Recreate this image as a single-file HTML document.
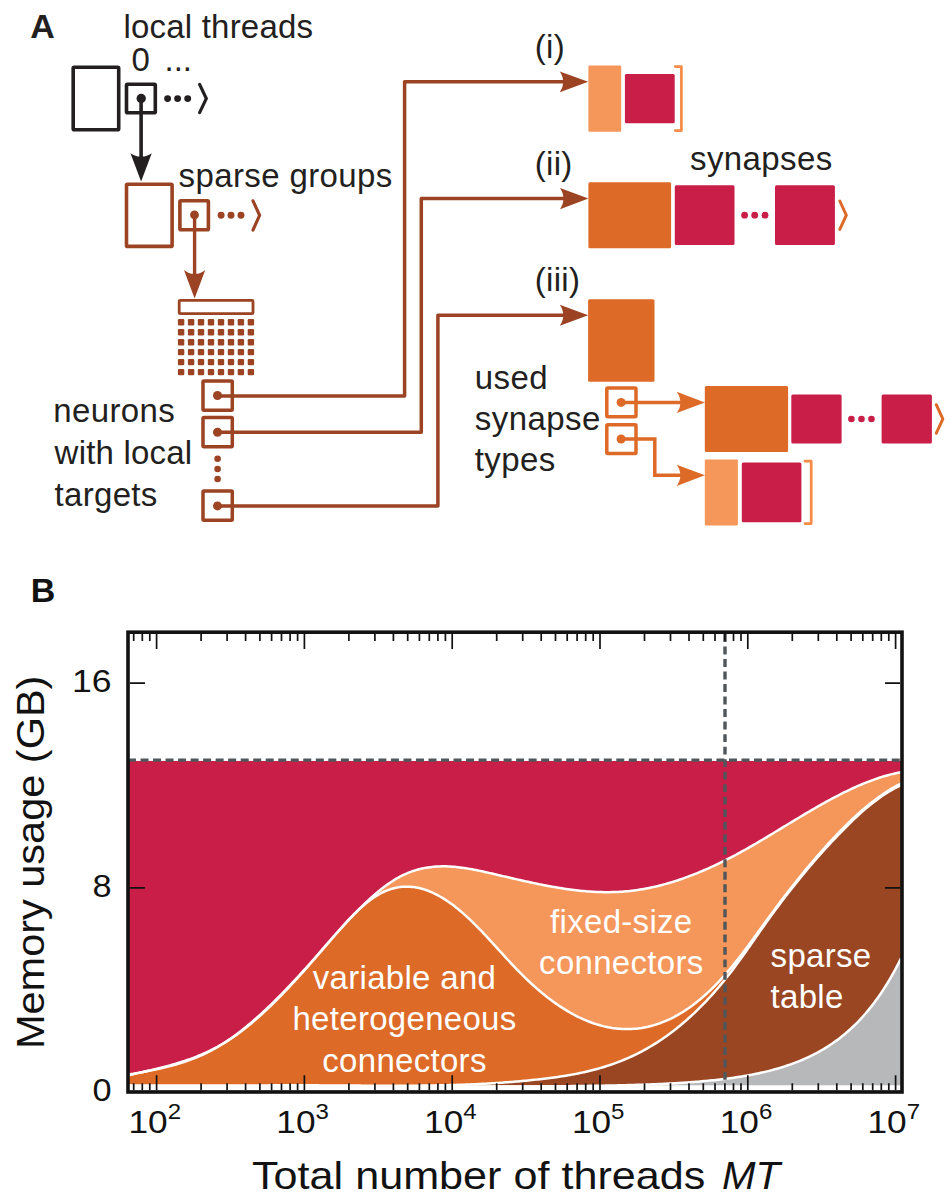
<!DOCTYPE html>
<html><head><meta charset="utf-8"><style>
html,body{margin:0;padding:0;background:#fff;width:952px;height:1204px;overflow:hidden}
svg{display:block}
text{font-family:"Liberation Sans",sans-serif}
</style></head><body>
<svg width="952" height="1204" viewBox="0 0 952 1204">
<rect width="952" height="1204" fill="#fff"/>
<text x="30.2" y="38.4" font-size="34" fill="#231f20" font-family="'Liberation Sans', sans-serif" font-weight="bold">A</text>
<text x="123.5" y="37.5" font-size="33" fill="#231f20" font-family="'Liberation Sans', sans-serif" letter-spacing="0.2">local threads</text>
<text x="131.5" y="71.3" font-size="33" fill="#231f20" font-family="'Liberation Sans', sans-serif" >0</text>
<text x="164.5" y="71.3" font-size="33" fill="#231f20" font-family="'Liberation Sans', sans-serif" >...</text>
<rect x="73.2" y="67.3" width="45.5" height="62.4" fill="none" stroke="#231f20" stroke-width="3.6" rx="1"/>
<rect x="126.5" y="84.2" width="28.8" height="28.5" fill="none" stroke="#231f20" stroke-width="3.6" rx="1"/>
<circle cx="141.2" cy="98.5" r="4.7" fill="#231f20"/>
<circle cx="167.6" cy="98.6" r="3.45" fill="#231f20"/>
<circle cx="177.6" cy="98.6" r="3.45" fill="#231f20"/>
<circle cx="187.7" cy="98.6" r="3.45" fill="#231f20"/>
<path d="M199.6,84.4 L206.3,98.6 L199.6,112.6" fill="none" stroke="#231f20" stroke-width="3.2" stroke-linecap="round" stroke-linejoin="miter"/>
<line x1="141.1" y1="98.5" x2="141.1" y2="158" stroke="#231f20" stroke-width="3.6"/>
<path d="M141.10,181.50 L130.45,153.20 Q136.31,156.99 141.10,156.50 Q145.89,156.99 151.75,153.20 Z" fill="#231f20"/>
<text x="178.6" y="187.1" font-size="33" fill="#231f20" font-family="'Liberation Sans', sans-serif" letter-spacing="0.38">sparse groups</text>
<rect x="126.5" y="184.2" width="45.6" height="62.2" fill="none" stroke="#9b4322" stroke-width="3.6" rx="1"/>
<rect x="179.9" y="200.8" width="28.5" height="29" fill="none" stroke="#9b4322" stroke-width="3.6" rx="1"/>
<circle cx="194.5" cy="214.9" r="4.4" fill="#9b4322"/>
<circle cx="221.1" cy="215.3" r="3.45" fill="#9b4322"/>
<circle cx="231.0" cy="215.3" r="3.45" fill="#9b4322"/>
<circle cx="241.0" cy="215.3" r="3.45" fill="#9b4322"/>
<path d="M253,200.8 L259.6,215.3 L253,230" fill="none" stroke="#9b4322" stroke-width="3.15" stroke-linecap="round"/>
<line x1="194.6" y1="214.9" x2="194.6" y2="276" stroke="#9b4322" stroke-width="3.4"/>
<path d="M194.60,298.40 L183.95,269.90 Q189.81,274.27 194.60,273.70 Q199.39,274.27 205.25,269.90 Z" fill="#9b4322"/>
<rect x="179.2" y="300.4" width="73.8" height="13.3" fill="none" stroke="#9b4322" stroke-width="2.8" rx="1"/>
<rect x="177.9" y="319.0" width="6.4" height="6.4" rx="1.2" fill="#9b4322"/>
<rect x="187.9" y="319.0" width="6.4" height="6.4" rx="1.2" fill="#9b4322"/>
<rect x="197.8" y="319.0" width="6.4" height="6.4" rx="1.2" fill="#9b4322"/>
<rect x="207.8" y="319.0" width="6.4" height="6.4" rx="1.2" fill="#9b4322"/>
<rect x="217.8" y="319.0" width="6.4" height="6.4" rx="1.2" fill="#9b4322"/>
<rect x="227.8" y="319.0" width="6.4" height="6.4" rx="1.2" fill="#9b4322"/>
<rect x="237.7" y="319.0" width="6.4" height="6.4" rx="1.2" fill="#9b4322"/>
<rect x="247.7" y="319.0" width="6.4" height="6.4" rx="1.2" fill="#9b4322"/>
<rect x="177.9" y="329.0" width="6.4" height="6.4" rx="1.2" fill="#9b4322"/>
<rect x="187.9" y="329.0" width="6.4" height="6.4" rx="1.2" fill="#9b4322"/>
<rect x="197.8" y="329.0" width="6.4" height="6.4" rx="1.2" fill="#9b4322"/>
<rect x="207.8" y="329.0" width="6.4" height="6.4" rx="1.2" fill="#9b4322"/>
<rect x="217.8" y="329.0" width="6.4" height="6.4" rx="1.2" fill="#9b4322"/>
<rect x="227.8" y="329.0" width="6.4" height="6.4" rx="1.2" fill="#9b4322"/>
<rect x="237.7" y="329.0" width="6.4" height="6.4" rx="1.2" fill="#9b4322"/>
<rect x="247.7" y="329.0" width="6.4" height="6.4" rx="1.2" fill="#9b4322"/>
<rect x="177.9" y="339.0" width="6.4" height="6.4" rx="1.2" fill="#9b4322"/>
<rect x="187.9" y="339.0" width="6.4" height="6.4" rx="1.2" fill="#9b4322"/>
<rect x="197.8" y="339.0" width="6.4" height="6.4" rx="1.2" fill="#9b4322"/>
<rect x="207.8" y="339.0" width="6.4" height="6.4" rx="1.2" fill="#9b4322"/>
<rect x="217.8" y="339.0" width="6.4" height="6.4" rx="1.2" fill="#9b4322"/>
<rect x="227.8" y="339.0" width="6.4" height="6.4" rx="1.2" fill="#9b4322"/>
<rect x="237.7" y="339.0" width="6.4" height="6.4" rx="1.2" fill="#9b4322"/>
<rect x="247.7" y="339.0" width="6.4" height="6.4" rx="1.2" fill="#9b4322"/>
<rect x="177.9" y="348.9" width="6.4" height="6.4" rx="1.2" fill="#9b4322"/>
<rect x="187.9" y="348.9" width="6.4" height="6.4" rx="1.2" fill="#9b4322"/>
<rect x="197.8" y="348.9" width="6.4" height="6.4" rx="1.2" fill="#9b4322"/>
<rect x="207.8" y="348.9" width="6.4" height="6.4" rx="1.2" fill="#9b4322"/>
<rect x="217.8" y="348.9" width="6.4" height="6.4" rx="1.2" fill="#9b4322"/>
<rect x="227.8" y="348.9" width="6.4" height="6.4" rx="1.2" fill="#9b4322"/>
<rect x="237.7" y="348.9" width="6.4" height="6.4" rx="1.2" fill="#9b4322"/>
<rect x="247.7" y="348.9" width="6.4" height="6.4" rx="1.2" fill="#9b4322"/>
<rect x="177.9" y="358.9" width="6.4" height="6.4" rx="1.2" fill="#9b4322"/>
<rect x="187.9" y="358.9" width="6.4" height="6.4" rx="1.2" fill="#9b4322"/>
<rect x="197.8" y="358.9" width="6.4" height="6.4" rx="1.2" fill="#9b4322"/>
<rect x="207.8" y="358.9" width="6.4" height="6.4" rx="1.2" fill="#9b4322"/>
<rect x="217.8" y="358.9" width="6.4" height="6.4" rx="1.2" fill="#9b4322"/>
<rect x="227.8" y="358.9" width="6.4" height="6.4" rx="1.2" fill="#9b4322"/>
<rect x="237.7" y="358.9" width="6.4" height="6.4" rx="1.2" fill="#9b4322"/>
<rect x="247.7" y="358.9" width="6.4" height="6.4" rx="1.2" fill="#9b4322"/>
<rect x="177.9" y="368.9" width="6.4" height="6.4" rx="1.2" fill="#9b4322"/>
<rect x="187.9" y="368.9" width="6.4" height="6.4" rx="1.2" fill="#9b4322"/>
<rect x="197.8" y="368.9" width="6.4" height="6.4" rx="1.2" fill="#9b4322"/>
<rect x="207.8" y="368.9" width="6.4" height="6.4" rx="1.2" fill="#9b4322"/>
<rect x="217.8" y="368.9" width="6.4" height="6.4" rx="1.2" fill="#9b4322"/>
<rect x="227.8" y="368.9" width="6.4" height="6.4" rx="1.2" fill="#9b4322"/>
<rect x="237.7" y="368.9" width="6.4" height="6.4" rx="1.2" fill="#9b4322"/>
<rect x="247.7" y="368.9" width="6.4" height="6.4" rx="1.2" fill="#9b4322"/>
<rect x="203" y="381.0" width="29.3" height="29.2" fill="none" stroke="#9b4322" stroke-width="3.5" rx="1"/>
<circle cx="217.5" cy="395.5" r="4.5" fill="#9b4322"/>
<rect x="203" y="417.6" width="29.3" height="29.2" fill="none" stroke="#9b4322" stroke-width="3.5" rx="1"/>
<circle cx="217.5" cy="432.2" r="4.5" fill="#9b4322"/>
<rect x="203" y="491.1" width="29.3" height="29.2" fill="none" stroke="#9b4322" stroke-width="3.5" rx="1"/>
<circle cx="217.5" cy="505.9" r="4.5" fill="#9b4322"/>
<circle cx="217.6" cy="458.8" r="3.3" fill="#9b4322"/>
<circle cx="217.6" cy="469.0" r="3.3" fill="#9b4322"/>
<circle cx="217.6" cy="479.0" r="3.3" fill="#9b4322"/>
<path d="M217.5,395.9 H404.6 V81.8 H565" fill="none" stroke="#9b4322" stroke-width="3.5" stroke-linejoin="round"/>
<path d="M217.5,432.2 H421.3 V198.6 H565" fill="none" stroke="#9b4322" stroke-width="3.5" stroke-linejoin="round"/>
<path d="M217.5,505.9 H437.9 V315.2 H565" fill="none" stroke="#9b4322" stroke-width="3.5" stroke-linejoin="round"/>
<path d="M588.20,81.80 L559.80,71.40 Q563.48,77.12 563.00,81.80 Q563.48,86.48 559.80,92.20 Z" fill="#9b4322"/>
<path d="M588.40,198.60 L560.00,188.00 Q563.79,193.83 563.30,198.60 Q563.79,203.37 560.00,209.20 Z" fill="#9b4322"/>
<path d="M588.20,315.20 L559.80,304.70 Q563.60,310.47 563.10,315.20 Q563.60,319.93 559.80,325.70 Z" fill="#9b4322"/>
<text x="53.2" y="421.9" font-size="33" fill="#231f20" font-family="'Liberation Sans', sans-serif" letter-spacing="0.4">neurons</text>
<text x="54.6" y="463.9" font-size="33" fill="#231f20" font-family="'Liberation Sans', sans-serif" letter-spacing="0.2">with local</text>
<text x="54.6" y="505.6" font-size="33" fill="#231f20" font-family="'Liberation Sans', sans-serif" letter-spacing="0.3">targets</text>
<text x="534.8" y="57.8" font-size="33" fill="#231f20" font-family="'Liberation Sans', sans-serif" letter-spacing="0.3">(i)</text>
<rect x="588.4" y="65.5" width="32.8" height="66.2" rx="1" fill="#f5965a"/>
<rect x="624.9" y="73.9" width="49.8" height="49.3" rx="1.5" fill="#c91e48"/>
<path d="M675.3,66.6 H681.4 V130.6 H675.3" fill="none" stroke="#f58b45" stroke-width="2.7" stroke-linecap="round" stroke-linejoin="round"/>
<text x="534.8" y="174.6" font-size="33" fill="#231f20" font-family="'Liberation Sans', sans-serif" letter-spacing="0.3">(ii)</text>
<text x="690.0" y="170.3" font-size="33" fill="#231f20" font-family="'Liberation Sans', sans-serif" letter-spacing="0.4">synapses</text>
<rect x="588.4" y="182.3" width="82.7" height="65.9" rx="1.5" fill="#dd6a27"/>
<rect x="674.8" y="185.3" width="59.7" height="59.7" rx="1.5" fill="#c91e48"/>
<rect x="775" y="185.3" width="59.9" height="59.7" rx="1.5" fill="#c91e48"/>
<circle cx="744.6" cy="215.2" r="3.4" fill="#c91e48"/>
<circle cx="754.7" cy="215.2" r="3.4" fill="#c91e48"/>
<circle cx="765.0" cy="215.2" r="3.4" fill="#c91e48"/>
<path d="M839.8,201 L846.3,215.2 L839.8,229.4" fill="none" stroke="#dd6a27" stroke-width="3" stroke-linecap="round"/>
<text x="534.8" y="290.7" font-size="33" fill="#231f20" font-family="'Liberation Sans', sans-serif" letter-spacing="0.3">(iii)</text>
<rect x="588.1" y="299.2" width="66.4" height="82.5" rx="1.5" fill="#dd6a27"/>
<text x="474.8" y="389.0" font-size="33" fill="#231f20" font-family="'Liberation Sans', sans-serif" letter-spacing="0.4">used</text>
<text x="474.8" y="429.8" font-size="33" fill="#231f20" font-family="'Liberation Sans', sans-serif" letter-spacing="0.45">synapse</text>
<text x="474.8" y="470.7" font-size="33" fill="#231f20" font-family="'Liberation Sans', sans-serif" letter-spacing="0.4">types</text>
<rect x="606.8" y="387.9" width="29.2" height="28.8" fill="none" stroke="#dd6a27" stroke-width="3.5" rx="1"/>
<rect x="606.8" y="424.8" width="29.2" height="28.8" fill="none" stroke="#dd6a27" stroke-width="3.5" rx="1"/>
<circle cx="621.1" cy="402.4" r="4.5" fill="#dd6a27"/>
<circle cx="621.1" cy="439" r="4.5" fill="#dd6a27"/>
<path d="M621.1,402.4 H682" fill="none" stroke="#dd6a27" stroke-width="3.5"/>
<path d="M621.1,439 H654.8 V475.3 H682" fill="none" stroke="#dd6a27" stroke-width="3.5"/>
<path d="M704.90,402.40 L676.70,391.70 Q680.72,397.58 680.20,402.40 Q680.72,407.21 676.70,413.10 Z" fill="#dd6a27"/>
<path d="M704.90,475.30 L676.70,464.70 Q680.72,470.53 680.20,475.30 Q680.72,480.07 676.70,485.90 Z" fill="#dd6a27"/>
<rect x="704.8" y="385.9" width="83.3" height="66.2" rx="1.5" fill="#dd6a27"/>
<rect x="791.3" y="394.4" width="50.3" height="49.2" rx="1.5" fill="#c91e48"/>
<rect x="881.6" y="394.4" width="50.3" height="49.2" rx="1.5" fill="#c91e48"/>
<circle cx="851.4" cy="419" r="3.3" fill="#c91e48"/>
<circle cx="861.5" cy="419" r="3.3" fill="#c91e48"/>
<circle cx="871.5" cy="419" r="3.3" fill="#c91e48"/>
<path d="M936.3,404.7 L942.8,419 L936.3,433.2" fill="none" stroke="#dd6a27" stroke-width="3" stroke-linecap="round"/>
<rect x="704.8" y="459.5" width="33.1" height="66.1" rx="1" fill="#f5965a"/>
<rect x="741.8" y="462.6" width="59.6" height="59.6" rx="1.5" fill="#c91e48"/>
<path d="M805,461.2 H811.2 V523.6 H805" fill="none" stroke="#f58b45" stroke-width="2.7" stroke-linecap="round" stroke-linejoin="round"/>
<rect x="129" y="761" width="772" height="332" fill="#c91e48"/>
<path d="M128.00,1074.69 L130.00,1074.33 L132.00,1073.97 L134.00,1073.61 L136.00,1073.25 L138.00,1072.88 L140.00,1072.52 L142.00,1072.15 L144.00,1071.77 L146.00,1071.40 L148.00,1071.01 L150.00,1070.62 L152.00,1070.22 L154.00,1069.81 L156.00,1069.39 L158.00,1068.96 L160.00,1068.52 L162.00,1068.06 L164.00,1067.60 L166.00,1067.12 L168.00,1066.62 L170.00,1066.11 L172.00,1065.58 L174.00,1065.03 L176.00,1064.47 L178.00,1063.88 L180.00,1063.28 L182.00,1062.65 L184.00,1062.00 L186.00,1061.33 L188.00,1060.64 L190.00,1059.92 L192.00,1059.17 L194.00,1058.40 L196.00,1057.60 L198.00,1056.77 L200.00,1055.91 L202.00,1055.02 L204.00,1054.11 L206.00,1053.16 L208.00,1052.17 L210.00,1051.16 L212.00,1050.11 L214.00,1049.02 L216.00,1047.90 L218.00,1046.74 L220.00,1045.54 L222.00,1044.31 L224.00,1043.05 L226.00,1041.75 L228.00,1040.41 L230.00,1039.05 L232.00,1037.65 L234.00,1036.22 L236.00,1034.75 L238.00,1033.26 L240.00,1031.73 L242.00,1030.18 L244.00,1028.60 L246.00,1026.98 L248.00,1025.34 L250.00,1023.67 L252.00,1021.98 L254.00,1020.26 L256.00,1018.51 L258.00,1016.73 L260.00,1014.94 L262.00,1013.11 L264.00,1011.27 L266.00,1009.40 L268.00,1007.50 L270.00,1005.59 L272.00,1003.65 L274.00,1001.70 L276.00,999.72 L278.00,997.72 L280.00,995.70 L282.00,993.67 L284.00,991.61 L286.00,989.54 L288.00,987.45 L290.00,985.35 L292.00,983.23 L294.00,981.09 L296.00,978.94 L298.00,976.77 L300.00,974.59 L302.00,972.40 L304.00,970.19 L306.00,967.98 L308.00,965.75 L310.00,963.51 L312.00,961.26 L314.00,959.00 L316.00,956.73 L318.00,954.46 L320.00,952.18 L322.00,949.91 L324.00,947.63 L326.00,945.35 L328.00,943.07 L330.00,940.80 L332.00,938.54 L334.00,936.28 L336.00,934.03 L338.00,931.79 L340.00,929.57 L342.00,927.36 L344.00,925.16 L346.00,922.98 L348.00,920.82 L350.00,918.69 L352.00,916.57 L354.00,914.48 L356.00,912.41 L358.00,910.37 L360.00,908.36 L362.00,906.38 L364.00,904.43 L366.00,902.51 L368.00,900.63 L370.00,898.79 L372.00,896.99 L374.00,895.22 L376.00,893.50 L378.00,891.82 L380.00,890.19 L382.00,888.60 L384.00,887.06 L386.00,885.57 L388.00,884.14 L390.00,882.75 L392.00,881.42 L394.00,880.15 L396.00,878.94 L398.00,877.78 L400.00,876.69 L402.00,875.66 L404.00,874.69 L406.00,873.78 L408.00,872.94 L410.00,872.15 L412.00,871.41 L414.00,870.74 L416.00,870.11 L418.00,869.54 L420.00,869.02 L422.00,868.55 L424.00,868.13 L426.00,867.76 L428.00,867.44 L430.00,867.16 L432.00,866.92 L434.00,866.72 L436.00,866.57 L438.00,866.45 L440.00,866.38 L442.00,866.34 L444.00,866.34 L446.00,866.37 L448.00,866.43 L450.00,866.53 L452.00,866.66 L454.00,866.81 L456.00,867.00 L458.00,867.21 L460.00,867.44 L462.00,867.70 L464.00,867.98 L466.00,868.29 L468.00,868.61 L470.00,868.95 L472.00,869.31 L474.00,869.69 L476.00,870.08 L478.00,870.48 L480.00,870.90 L482.00,871.33 L484.00,871.76 L486.00,872.21 L488.00,872.66 L490.00,873.11 L492.00,873.58 L494.00,874.04 L496.00,874.50 L498.00,874.97 L500.00,875.44 L502.00,875.91 L504.00,876.37 L506.00,876.84 L508.00,877.30 L510.00,877.77 L512.00,878.23 L514.00,878.69 L516.00,879.15 L518.00,879.61 L520.00,880.06 L522.00,880.51 L524.00,880.96 L526.00,881.40 L528.00,881.84 L530.00,882.27 L532.00,882.70 L534.00,883.12 L536.00,883.54 L538.00,883.96 L540.00,884.36 L542.00,884.76 L544.00,885.16 L546.00,885.54 L548.00,885.92 L550.00,886.29 L552.00,886.65 L554.00,887.01 L556.00,887.35 L558.00,887.69 L560.00,888.02 L562.00,888.33 L564.00,888.64 L566.00,888.94 L568.00,889.22 L570.00,889.50 L572.00,889.76 L574.00,890.01 L576.00,890.25 L578.00,890.48 L580.00,890.70 L582.00,890.90 L584.00,891.09 L586.00,891.26 L588.00,891.42 L590.00,891.57 L592.00,891.70 L594.00,891.81 L596.00,891.91 L598.00,892.00 L600.00,892.07 L602.00,892.12 L604.00,892.16 L606.00,892.17 L608.00,892.18 L610.00,892.16 L612.00,892.12 L614.00,892.07 L616.00,892.00 L618.00,891.91 L620.00,891.80 L622.00,891.67 L624.00,891.52 L626.00,891.35 L628.00,891.16 L630.00,890.95 L632.00,890.72 L634.00,890.47 L636.00,890.20 L638.00,889.91 L640.00,889.60 L642.00,889.27 L644.00,888.92 L646.00,888.55 L648.00,888.17 L650.00,887.76 L652.00,887.34 L654.00,886.89 L656.00,886.43 L658.00,885.95 L660.00,885.46 L662.00,884.94 L664.00,884.41 L666.00,883.86 L668.00,883.29 L670.00,882.71 L672.00,882.10 L674.00,881.48 L676.00,880.85 L678.00,880.20 L680.00,879.53 L682.00,878.84 L684.00,878.14 L686.00,877.42 L688.00,876.69 L690.00,875.94 L692.00,875.18 L694.00,874.40 L696.00,873.60 L698.00,872.79 L700.00,871.96 L702.00,871.12 L704.00,870.27 L706.00,869.40 L708.00,868.52 L710.00,867.62 L712.00,866.71 L714.00,865.78 L716.00,864.84 L718.00,863.89 L720.00,862.92 L722.00,861.94 L724.00,860.95 L726.00,859.95 L728.00,858.93 L730.00,857.90 L732.00,856.85 L734.00,855.80 L736.00,854.73 L738.00,853.65 L740.00,852.56 L742.00,851.46 L744.00,850.34 L746.00,849.22 L748.00,848.09 L750.00,846.95 L752.00,845.80 L754.00,844.65 L756.00,843.48 L758.00,842.31 L760.00,841.14 L762.00,839.95 L764.00,838.76 L766.00,837.57 L768.00,836.37 L770.00,835.17 L772.00,833.97 L774.00,832.76 L776.00,831.55 L778.00,830.34 L780.00,829.12 L782.00,827.91 L784.00,826.69 L786.00,825.48 L788.00,824.26 L790.00,823.05 L792.00,821.84 L794.00,820.63 L796.00,819.42 L798.00,818.22 L800.00,817.02 L802.00,815.82 L804.00,814.63 L806.00,813.44 L808.00,812.26 L810.00,811.08 L812.00,809.91 L814.00,808.75 L816.00,807.60 L818.00,806.45 L820.00,805.31 L822.00,804.18 L824.00,803.06 L826.00,801.95 L828.00,800.85 L830.00,799.77 L832.00,798.69 L834.00,797.62 L836.00,796.57 L838.00,795.53 L840.00,794.50 L842.00,793.49 L844.00,792.49 L846.00,791.51 L848.00,790.54 L850.00,789.59 L852.00,788.66 L854.00,787.74 L856.00,786.84 L858.00,785.95 L860.00,785.09 L862.00,784.24 L864.00,783.41 L866.00,782.61 L868.00,781.82 L870.00,781.06 L872.00,780.31 L874.00,779.59 L876.00,778.89 L878.00,778.21 L880.00,777.56 L882.00,776.93 L884.00,776.32 L886.00,775.74 L888.00,775.18 L890.00,774.65 L892.00,774.15 L894.00,773.67 L896.00,773.22 L898.00,772.80 L900.00,772.41 L901.00,772.22 L901.0,1093.0 L128.0,1093.0 Z" fill="#f5965a"/>
<path d="M128.00,1075.41 L130.00,1074.95 L132.00,1074.48 L134.00,1074.02 L136.00,1073.56 L138.00,1073.11 L140.00,1072.65 L142.00,1072.20 L144.00,1071.74 L146.00,1071.28 L148.00,1070.82 L150.00,1070.36 L152.00,1069.89 L154.00,1069.41 L156.00,1068.94 L158.00,1068.45 L160.00,1067.96 L162.00,1067.45 L164.00,1066.94 L166.00,1066.42 L168.00,1065.89 L170.00,1065.34 L172.00,1064.79 L174.00,1064.22 L176.00,1063.63 L178.00,1063.03 L180.00,1062.41 L182.00,1061.78 L184.00,1061.13 L186.00,1060.46 L188.00,1059.77 L190.00,1059.06 L192.00,1058.33 L194.00,1057.57 L196.00,1056.80 L198.00,1056.00 L200.00,1055.17 L202.00,1054.32 L204.00,1053.45 L206.00,1052.54 L208.00,1051.61 L210.00,1050.65 L212.00,1049.66 L214.00,1048.64 L216.00,1047.59 L218.00,1046.50 L220.00,1045.38 L222.00,1044.23 L224.00,1043.05 L226.00,1041.83 L228.00,1040.57 L230.00,1039.27 L232.00,1037.94 L234.00,1036.57 L236.00,1035.17 L238.00,1033.73 L240.00,1032.26 L242.00,1030.75 L244.00,1029.21 L246.00,1027.64 L248.00,1026.04 L250.00,1024.41 L252.00,1022.74 L254.00,1021.05 L256.00,1019.33 L258.00,1017.57 L260.00,1015.80 L262.00,1013.99 L264.00,1012.15 L266.00,1010.30 L268.00,1008.41 L270.00,1006.50 L272.00,1004.57 L274.00,1002.61 L276.00,1000.63 L278.00,998.62 L280.00,996.60 L282.00,994.55 L284.00,992.48 L286.00,990.40 L288.00,988.29 L290.00,986.16 L292.00,984.02 L294.00,981.86 L296.00,979.68 L298.00,977.49 L300.00,975.28 L302.00,973.05 L304.00,970.81 L306.00,968.56 L308.00,966.30 L310.00,964.02 L312.00,961.73 L314.00,959.42 L316.00,957.11 L318.00,954.79 L320.00,952.46 L322.00,950.11 L324.00,947.77 L326.00,945.42 L328.00,943.07 L330.00,940.73 L332.00,938.40 L334.00,936.07 L336.00,933.77 L338.00,931.48 L340.00,929.21 L342.00,926.97 L344.00,924.76 L346.00,922.58 L348.00,920.43 L350.00,918.32 L352.00,916.26 L354.00,914.24 L356.00,912.27 L358.00,910.36 L360.00,908.50 L362.00,906.70 L364.00,904.96 L366.00,903.29 L368.00,901.69 L370.00,900.16 L372.00,898.71 L374.00,897.34 L376.00,896.06 L378.00,894.85 L380.00,893.74 L382.00,892.70 L384.00,891.75 L386.00,890.88 L388.00,890.10 L390.00,889.39 L392.00,888.77 L394.00,888.23 L396.00,887.77 L398.00,887.38 L400.00,887.08 L402.00,886.85 L404.00,886.71 L406.00,886.63 L408.00,886.64 L410.00,886.72 L412.00,886.88 L414.00,887.11 L416.00,887.42 L418.00,887.80 L420.00,888.26 L422.00,888.78 L424.00,889.37 L426.00,890.03 L428.00,890.76 L430.00,891.56 L432.00,892.42 L434.00,893.34 L436.00,894.33 L438.00,895.38 L440.00,896.49 L442.00,897.66 L444.00,898.89 L446.00,900.17 L448.00,901.51 L450.00,902.91 L452.00,904.36 L454.00,905.86 L456.00,907.42 L458.00,909.02 L460.00,910.68 L462.00,912.38 L464.00,914.13 L466.00,915.93 L468.00,917.77 L470.00,919.66 L472.00,921.58 L474.00,923.55 L476.00,925.55 L478.00,927.58 L480.00,929.65 L482.00,931.73 L484.00,933.85 L486.00,935.98 L488.00,938.13 L490.00,940.30 L492.00,942.48 L494.00,944.67 L496.00,946.86 L498.00,949.06 L500.00,951.26 L502.00,953.46 L504.00,955.65 L506.00,957.83 L508.00,960.00 L510.00,962.16 L512.00,964.30 L514.00,966.43 L516.00,968.53 L518.00,970.60 L520.00,972.64 L522.00,974.66 L524.00,976.64 L526.00,978.59 L528.00,980.50 L530.00,982.38 L532.00,984.22 L534.00,986.03 L536.00,987.81 L538.00,989.55 L540.00,991.25 L542.00,992.92 L544.00,994.56 L546.00,996.16 L548.00,997.72 L550.00,999.25 L552.00,1000.74 L554.00,1002.20 L556.00,1003.62 L558.00,1005.00 L560.00,1006.35 L562.00,1007.66 L564.00,1008.93 L566.00,1010.16 L568.00,1011.36 L570.00,1012.52 L572.00,1013.64 L574.00,1014.73 L576.00,1015.78 L578.00,1016.78 L580.00,1017.75 L582.00,1018.69 L584.00,1019.58 L586.00,1020.43 L588.00,1021.25 L590.00,1022.02 L592.00,1022.76 L594.00,1023.46 L596.00,1024.12 L598.00,1024.73 L600.00,1025.31 L602.00,1025.85 L604.00,1026.35 L606.00,1026.80 L608.00,1027.22 L610.00,1027.59 L612.00,1027.93 L614.00,1028.22 L616.00,1028.47 L618.00,1028.68 L620.00,1028.85 L622.00,1028.98 L624.00,1029.06 L626.00,1029.10 L628.00,1029.10 L630.00,1029.06 L632.00,1028.97 L634.00,1028.84 L636.00,1028.67 L638.00,1028.46 L640.00,1028.20 L642.00,1027.90 L644.00,1027.55 L646.00,1027.16 L648.00,1026.73 L650.00,1026.25 L652.00,1025.73 L654.00,1025.17 L656.00,1024.56 L658.00,1023.90 L660.00,1023.20 L662.00,1022.45 L664.00,1021.66 L666.00,1020.82 L668.00,1019.94 L670.00,1019.01 L672.00,1018.04 L674.00,1017.02 L676.00,1015.95 L678.00,1014.84 L680.00,1013.68 L682.00,1012.47 L684.00,1011.21 L686.00,1009.91 L688.00,1008.56 L690.00,1007.17 L692.00,1005.72 L694.00,1004.23 L696.00,1002.69 L698.00,1001.10 L700.00,999.47 L702.00,997.78 L704.00,996.05 L706.00,994.26 L708.00,992.43 L710.00,990.55 L712.00,988.62 L714.00,986.64 L716.00,984.61 L718.00,982.53 L720.00,980.40 L722.00,978.22 L724.00,975.99 L726.00,973.71 L728.00,971.38 L730.00,969.00 L732.00,966.58 L734.00,964.12 L736.00,961.62 L738.00,959.08 L740.00,956.52 L742.00,953.92 L744.00,951.29 L746.00,948.64 L748.00,945.97 L750.00,943.27 L752.00,940.56 L754.00,937.84 L756.00,935.10 L758.00,932.36 L760.00,929.61 L762.00,926.85 L764.00,924.10 L766.00,921.34 L768.00,918.59 L770.00,915.85 L772.00,913.12 L774.00,910.40 L776.00,907.69 L778.00,905.01 L780.00,902.34 L782.00,899.69 L784.00,897.06 L786.00,894.45 L788.00,891.86 L790.00,889.29 L792.00,886.74 L794.00,884.21 L796.00,881.70 L798.00,879.20 L800.00,876.73 L802.00,874.27 L804.00,871.84 L806.00,869.42 L808.00,867.03 L810.00,864.65 L812.00,862.29 L814.00,859.95 L816.00,857.63 L818.00,855.33 L820.00,853.05 L822.00,850.78 L824.00,848.54 L826.00,846.32 L828.00,844.11 L830.00,841.93 L832.00,839.77 L834.00,837.63 L836.00,835.52 L838.00,833.43 L840.00,831.36 L842.00,829.32 L844.00,827.31 L846.00,825.32 L848.00,823.36 L850.00,821.42 L852.00,819.52 L854.00,817.64 L856.00,815.80 L858.00,813.98 L860.00,812.20 L862.00,810.44 L864.00,808.72 L866.00,807.04 L868.00,805.39 L870.00,803.77 L872.00,802.18 L874.00,800.64 L876.00,799.13 L878.00,797.65 L880.00,796.22 L882.00,794.82 L884.00,793.46 L886.00,792.14 L888.00,790.86 L890.00,789.63 L892.00,788.43 L894.00,787.28 L896.00,786.17 L898.00,785.10 L900.00,784.08 L901.00,783.59 L901.0,1093.0 L128.0,1093.0 Z" fill="#dd6a27"/>
<path d="M128.00,1085.34 L130.00,1085.36 L132.00,1085.39 L134.00,1085.40 L136.00,1085.42 L138.00,1085.44 L140.00,1085.46 L142.00,1085.47 L144.00,1085.49 L146.00,1085.50 L148.00,1085.52 L150.00,1085.53 L152.00,1085.54 L154.00,1085.55 L156.00,1085.56 L158.00,1085.57 L160.00,1085.58 L162.00,1085.58 L164.00,1085.59 L166.00,1085.60 L168.00,1085.60 L170.00,1085.61 L172.00,1085.61 L174.00,1085.61 L176.00,1085.61 L178.00,1085.62 L180.00,1085.62 L182.00,1085.62 L184.00,1085.62 L186.00,1085.62 L188.00,1085.62 L190.00,1085.62 L192.00,1085.61 L194.00,1085.61 L196.00,1085.61 L198.00,1085.61 L200.00,1085.60 L202.00,1085.60 L204.00,1085.59 L206.00,1085.59 L208.00,1085.58 L210.00,1085.58 L212.00,1085.57 L214.00,1085.57 L216.00,1085.56 L218.00,1085.55 L220.00,1085.55 L222.00,1085.54 L224.00,1085.53 L226.00,1085.53 L228.00,1085.52 L230.00,1085.51 L232.00,1085.51 L234.00,1085.50 L236.00,1085.49 L238.00,1085.48 L240.00,1085.47 L242.00,1085.47 L244.00,1085.46 L246.00,1085.45 L248.00,1085.44 L250.00,1085.44 L252.00,1085.43 L254.00,1085.42 L256.00,1085.42 L258.00,1085.41 L260.00,1085.40 L262.00,1085.40 L264.00,1085.39 L266.00,1085.38 L268.00,1085.38 L270.00,1085.37 L272.00,1085.37 L274.00,1085.36 L276.00,1085.36 L278.00,1085.35 L280.00,1085.35 L282.00,1085.35 L284.00,1085.34 L286.00,1085.34 L288.00,1085.34 L290.00,1085.34 L292.00,1085.33 L294.00,1085.33 L296.00,1085.33 L298.00,1085.33 L300.00,1085.33 L302.00,1085.33 L304.00,1085.34 L306.00,1085.34 L308.00,1085.34 L310.00,1085.35 L312.00,1085.35 L314.00,1085.36 L316.00,1085.36 L318.00,1085.37 L320.00,1085.38 L322.00,1085.38 L324.00,1085.39 L326.00,1085.40 L328.00,1085.41 L330.00,1085.42 L332.00,1085.43 L334.00,1085.45 L336.00,1085.46 L338.00,1085.47 L340.00,1085.48 L342.00,1085.50 L344.00,1085.51 L346.00,1085.52 L348.00,1085.54 L350.00,1085.55 L352.00,1085.56 L354.00,1085.58 L356.00,1085.59 L358.00,1085.60 L360.00,1085.61 L362.00,1085.63 L364.00,1085.64 L366.00,1085.65 L368.00,1085.66 L370.00,1085.67 L372.00,1085.68 L374.00,1085.69 L376.00,1085.70 L378.00,1085.71 L380.00,1085.72 L382.00,1085.72 L384.00,1085.73 L386.00,1085.73 L388.00,1085.74 L390.00,1085.74 L392.00,1085.74 L394.00,1085.74 L396.00,1085.74 L398.00,1085.74 L400.00,1085.74 L402.00,1085.73 L404.00,1085.73 L406.00,1085.72 L408.00,1085.71 L410.00,1085.70 L412.00,1085.69 L414.00,1085.68 L416.00,1085.66 L418.00,1085.65 L420.00,1085.63 L422.00,1085.61 L424.00,1085.58 L426.00,1085.56 L428.00,1085.53 L430.00,1085.50 L432.00,1085.47 L434.00,1085.44 L436.00,1085.40 L438.00,1085.37 L440.00,1085.33 L442.00,1085.29 L444.00,1085.24 L446.00,1085.19 L448.00,1085.14 L450.00,1085.09 L452.00,1085.04 L454.00,1084.98 L456.00,1084.92 L458.00,1084.86 L460.00,1084.79 L462.00,1084.72 L464.00,1084.65 L466.00,1084.57 L468.00,1084.49 L470.00,1084.41 L472.00,1084.33 L474.00,1084.24 L476.00,1084.15 L478.00,1084.06 L480.00,1083.96 L482.00,1083.86 L484.00,1083.75 L486.00,1083.64 L488.00,1083.53 L490.00,1083.42 L492.00,1083.30 L494.00,1083.18 L496.00,1083.05 L498.00,1082.92 L500.00,1082.78 L502.00,1082.65 L504.00,1082.50 L506.00,1082.36 L508.00,1082.21 L510.00,1082.05 L512.00,1081.89 L514.00,1081.73 L516.00,1081.56 L518.00,1081.39 L520.00,1081.21 L522.00,1081.03 L524.00,1080.84 L526.00,1080.65 L528.00,1080.46 L530.00,1080.26 L532.00,1080.06 L534.00,1079.85 L536.00,1079.63 L538.00,1079.41 L540.00,1079.19 L542.00,1078.96 L544.00,1078.73 L546.00,1078.49 L548.00,1078.24 L550.00,1077.98 L552.00,1077.72 L554.00,1077.46 L556.00,1077.18 L558.00,1076.89 L560.00,1076.60 L562.00,1076.30 L564.00,1075.98 L566.00,1075.66 L568.00,1075.32 L570.00,1074.98 L572.00,1074.62 L574.00,1074.25 L576.00,1073.87 L578.00,1073.47 L580.00,1073.06 L582.00,1072.64 L584.00,1072.20 L586.00,1071.75 L588.00,1071.28 L590.00,1070.80 L592.00,1070.30 L594.00,1069.78 L596.00,1069.25 L598.00,1068.70 L600.00,1068.13 L602.00,1067.54 L604.00,1066.94 L606.00,1066.31 L608.00,1065.67 L610.00,1065.01 L612.00,1064.32 L614.00,1063.61 L616.00,1062.89 L618.00,1062.14 L620.00,1061.36 L622.00,1060.57 L624.00,1059.75 L626.00,1058.91 L628.00,1058.04 L630.00,1057.15 L632.00,1056.24 L634.00,1055.30 L636.00,1054.33 L638.00,1053.33 L640.00,1052.31 L642.00,1051.27 L644.00,1050.19 L646.00,1049.09 L648.00,1047.96 L650.00,1046.79 L652.00,1045.60 L654.00,1044.38 L656.00,1043.13 L658.00,1041.85 L660.00,1040.54 L662.00,1039.20 L664.00,1037.82 L666.00,1036.42 L668.00,1034.98 L670.00,1033.51 L672.00,1032.01 L674.00,1030.48 L676.00,1028.91 L678.00,1027.31 L680.00,1025.68 L682.00,1024.02 L684.00,1022.32 L686.00,1020.58 L688.00,1018.81 L690.00,1017.01 L692.00,1015.17 L694.00,1013.30 L696.00,1011.39 L698.00,1009.44 L700.00,1007.46 L702.00,1005.44 L704.00,1003.39 L706.00,1001.30 L708.00,999.17 L710.00,997.00 L712.00,994.80 L714.00,992.56 L716.00,990.28 L718.00,987.96 L720.00,985.60 L722.00,983.21 L724.00,980.77 L726.00,978.30 L728.00,975.78 L730.00,973.22 L732.00,970.63 L734.00,967.99 L736.00,965.31 L738.00,962.60 L740.00,959.85 L742.00,957.06 L744.00,954.26 L746.00,951.43 L748.00,948.58 L750.00,945.72 L752.00,942.85 L754.00,939.98 L756.00,937.10 L758.00,934.23 L760.00,931.37 L762.00,928.52 L764.00,925.69 L766.00,922.88 L768.00,920.08 L770.00,917.31 L772.00,914.56 L774.00,911.82 L776.00,909.11 L778.00,906.42 L780.00,903.75 L782.00,901.10 L784.00,898.47 L786.00,895.86 L788.00,893.27 L790.00,890.70 L792.00,888.16 L794.00,885.64 L796.00,883.13 L798.00,880.65 L800.00,878.19 L802.00,875.75 L804.00,873.33 L806.00,870.93 L808.00,868.55 L810.00,866.20 L812.00,863.86 L814.00,861.54 L816.00,859.24 L818.00,856.96 L820.00,854.70 L822.00,852.45 L824.00,850.23 L826.00,848.03 L828.00,845.84 L830.00,843.67 L832.00,841.52 L834.00,839.39 L836.00,837.27 L838.00,835.18 L840.00,833.10 L842.00,831.04 L844.00,829.01 L846.00,827.00 L848.00,825.01 L850.00,823.05 L852.00,821.11 L854.00,819.20 L856.00,817.33 L858.00,815.48 L860.00,813.66 L862.00,811.88 L864.00,810.13 L866.00,808.41 L868.00,806.73 L870.00,805.09 L872.00,803.48 L874.00,801.92 L876.00,800.40 L878.00,798.92 L880.00,797.48 L882.00,796.08 L884.00,794.74 L886.00,793.44 L888.00,792.18 L890.00,790.98 L892.00,789.83 L894.00,788.73 L896.00,787.68 L898.00,786.68 L900.00,785.74 L901.00,785.29 L901.0,1093.0 L128.0,1093.0 Z" fill="#9a4622"/>
<path d="M128.00,1086.81 L130.00,1086.81 L132.00,1086.81 L134.00,1086.81 L136.00,1086.81 L138.00,1086.81 L140.00,1086.81 L142.00,1086.81 L144.00,1086.81 L146.00,1086.81 L148.00,1086.81 L150.00,1086.81 L152.00,1086.81 L154.00,1086.81 L156.00,1086.81 L158.00,1086.81 L160.00,1086.81 L162.00,1086.81 L164.00,1086.81 L166.00,1086.81 L168.00,1086.81 L170.00,1086.81 L172.00,1086.81 L174.00,1086.81 L176.00,1086.81 L178.00,1086.81 L180.00,1086.81 L182.00,1086.81 L184.00,1086.81 L186.00,1086.81 L188.00,1086.81 L190.00,1086.81 L192.00,1086.81 L194.00,1086.81 L196.00,1086.81 L198.00,1086.81 L200.00,1086.81 L202.00,1086.81 L204.00,1086.81 L206.00,1086.81 L208.00,1086.81 L210.00,1086.81 L212.00,1086.81 L214.00,1086.81 L216.00,1086.81 L218.00,1086.81 L220.00,1086.81 L222.00,1086.81 L224.00,1086.81 L226.00,1086.81 L228.00,1086.81 L230.00,1086.81 L232.00,1086.81 L234.00,1086.81 L236.00,1086.81 L238.00,1086.81 L240.00,1086.81 L242.00,1086.81 L244.00,1086.81 L246.00,1086.80 L248.00,1086.80 L250.00,1086.80 L252.00,1086.80 L254.00,1086.80 L256.00,1086.80 L258.00,1086.80 L260.00,1086.80 L262.00,1086.80 L264.00,1086.80 L266.00,1086.80 L268.00,1086.80 L270.00,1086.80 L272.00,1086.80 L274.00,1086.80 L276.00,1086.80 L278.00,1086.80 L280.00,1086.80 L282.00,1086.80 L284.00,1086.80 L286.00,1086.80 L288.00,1086.80 L290.00,1086.80 L292.00,1086.80 L294.00,1086.80 L296.00,1086.80 L298.00,1086.80 L300.00,1086.80 L302.00,1086.80 L304.00,1086.80 L306.00,1086.80 L308.00,1086.80 L310.00,1086.80 L312.00,1086.80 L314.00,1086.80 L316.00,1086.80 L318.00,1086.80 L320.00,1086.80 L322.00,1086.80 L324.00,1086.80 L326.00,1086.79 L328.00,1086.79 L330.00,1086.79 L332.00,1086.79 L334.00,1086.79 L336.00,1086.79 L338.00,1086.79 L340.00,1086.79 L342.00,1086.79 L344.00,1086.79 L346.00,1086.79 L348.00,1086.79 L350.00,1086.79 L352.00,1086.79 L354.00,1086.79 L356.00,1086.79 L358.00,1086.79 L360.00,1086.78 L362.00,1086.78 L364.00,1086.78 L366.00,1086.78 L368.00,1086.78 L370.00,1086.78 L372.00,1086.78 L374.00,1086.78 L376.00,1086.78 L378.00,1086.78 L380.00,1086.78 L382.00,1086.77 L384.00,1086.77 L386.00,1086.77 L388.00,1086.77 L390.00,1086.77 L392.00,1086.77 L394.00,1086.77 L396.00,1086.77 L398.00,1086.76 L400.00,1086.76 L402.00,1086.76 L404.00,1086.76 L406.00,1086.76 L408.00,1086.76 L410.00,1086.75 L412.00,1086.75 L414.00,1086.75 L416.00,1086.75 L418.00,1086.75 L420.00,1086.75 L422.00,1086.74 L424.00,1086.74 L426.00,1086.74 L428.00,1086.74 L430.00,1086.73 L432.00,1086.73 L434.00,1086.73 L436.00,1086.73 L438.00,1086.72 L440.00,1086.72 L442.00,1086.72 L444.00,1086.72 L446.00,1086.71 L448.00,1086.71 L450.00,1086.71 L452.00,1086.70 L454.00,1086.70 L456.00,1086.70 L458.00,1086.69 L460.00,1086.69 L462.00,1086.69 L464.00,1086.68 L466.00,1086.68 L468.00,1086.67 L470.00,1086.67 L472.00,1086.66 L474.00,1086.66 L476.00,1086.65 L478.00,1086.65 L480.00,1086.64 L482.00,1086.64 L484.00,1086.63 L486.00,1086.63 L488.00,1086.62 L490.00,1086.62 L492.00,1086.61 L494.00,1086.60 L496.00,1086.60 L498.00,1086.59 L500.00,1086.58 L502.00,1086.58 L504.00,1086.57 L506.00,1086.56 L508.00,1086.55 L510.00,1086.54 L512.00,1086.54 L514.00,1086.53 L516.00,1086.52 L518.00,1086.51 L520.00,1086.50 L522.00,1086.49 L524.00,1086.48 L526.00,1086.47 L528.00,1086.46 L530.00,1086.45 L532.00,1086.43 L534.00,1086.42 L536.00,1086.41 L538.00,1086.40 L540.00,1086.38 L542.00,1086.37 L544.00,1086.36 L546.00,1086.34 L548.00,1086.33 L550.00,1086.31 L552.00,1086.29 L554.00,1086.28 L556.00,1086.26 L558.00,1086.24 L560.00,1086.23 L562.00,1086.21 L564.00,1086.19 L566.00,1086.17 L568.00,1086.15 L570.00,1086.13 L572.00,1086.10 L574.00,1086.08 L576.00,1086.06 L578.00,1086.03 L580.00,1086.01 L582.00,1085.98 L584.00,1085.96 L586.00,1085.93 L588.00,1085.90 L590.00,1085.87 L592.00,1085.84 L594.00,1085.81 L596.00,1085.78 L598.00,1085.74 L600.00,1085.71 L602.00,1085.67 L604.00,1085.64 L606.00,1085.60 L608.00,1085.56 L610.00,1085.52 L612.00,1085.48 L614.00,1085.44 L616.00,1085.39 L618.00,1085.35 L620.00,1085.30 L622.00,1085.25 L624.00,1085.20 L626.00,1085.15 L628.00,1085.10 L630.00,1085.04 L632.00,1084.99 L634.00,1084.93 L636.00,1084.87 L638.00,1084.80 L640.00,1084.74 L642.00,1084.67 L644.00,1084.61 L646.00,1084.53 L648.00,1084.46 L650.00,1084.39 L652.00,1084.31 L654.00,1084.23 L656.00,1084.14 L658.00,1084.06 L660.00,1083.97 L662.00,1083.88 L664.00,1083.79 L666.00,1083.69 L668.00,1083.59 L670.00,1083.48 L672.00,1083.38 L674.00,1083.27 L676.00,1083.15 L678.00,1083.04 L680.00,1082.91 L682.00,1082.79 L684.00,1082.66 L686.00,1082.53 L688.00,1082.39 L690.00,1082.25 L692.00,1082.10 L694.00,1081.95 L696.00,1081.79 L698.00,1081.63 L700.00,1081.46 L702.00,1081.29 L704.00,1081.12 L706.00,1080.93 L708.00,1080.74 L710.00,1080.55 L712.00,1080.35 L714.00,1080.14 L716.00,1079.93 L718.00,1079.70 L720.00,1079.48 L722.00,1079.24 L724.00,1079.00 L726.00,1078.75 L728.00,1078.49 L730.00,1078.22 L732.00,1077.94 L734.00,1077.66 L736.00,1077.36 L738.00,1077.06 L740.00,1076.75 L742.00,1076.42 L744.00,1076.09 L746.00,1075.75 L748.00,1075.39 L750.00,1075.02 L752.00,1074.64 L754.00,1074.25 L756.00,1073.85 L758.00,1073.43 L760.00,1073.00 L762.00,1072.56 L764.00,1072.10 L766.00,1071.63 L768.00,1071.14 L770.00,1070.64 L772.00,1070.12 L774.00,1069.58 L776.00,1069.03 L778.00,1068.46 L780.00,1067.87 L782.00,1067.26 L784.00,1066.63 L786.00,1065.98 L788.00,1065.31 L790.00,1064.62 L792.00,1063.91 L794.00,1063.17 L796.00,1062.41 L798.00,1061.63 L800.00,1060.82 L802.00,1059.98 L804.00,1059.12 L806.00,1058.23 L808.00,1057.31 L810.00,1056.36 L812.00,1055.39 L814.00,1054.38 L816.00,1053.33 L818.00,1052.26 L820.00,1051.15 L822.00,1050.00 L824.00,1048.82 L826.00,1047.60 L828.00,1046.34 L830.00,1045.04 L832.00,1043.69 L834.00,1042.31 L836.00,1040.88 L838.00,1039.40 L840.00,1037.88 L842.00,1036.30 L844.00,1034.68 L846.00,1033.01 L848.00,1031.28 L850.00,1029.49 L852.00,1027.65 L854.00,1025.75 L856.00,1023.78 L858.00,1021.76 L860.00,1019.67 L862.00,1017.51 L864.00,1015.28 L866.00,1012.98 L868.00,1010.61 L870.00,1008.16 L872.00,1005.64 L874.00,1003.03 L876.00,1000.33 L878.00,997.55 L880.00,994.69 L882.00,991.72 L884.00,988.67 L886.00,985.51 L888.00,982.26 L890.00,978.90 L892.00,975.43 L894.00,971.85 L896.00,968.15 L898.00,964.34 L900.00,960.40 L901.00,958.39 L901.0,1093.0 L128.0,1093.0 Z" fill="#b7b8ba"/>
<path d="M128.00,1074.69 L130.00,1074.33 L132.00,1073.97 L134.00,1073.61 L136.00,1073.25 L138.00,1072.88 L140.00,1072.52 L142.00,1072.15 L144.00,1071.77 L146.00,1071.40 L148.00,1071.01 L150.00,1070.62 L152.00,1070.22 L154.00,1069.81 L156.00,1069.39 L158.00,1068.96 L160.00,1068.52 L162.00,1068.06 L164.00,1067.60 L166.00,1067.12 L168.00,1066.62 L170.00,1066.11 L172.00,1065.58 L174.00,1065.03 L176.00,1064.47 L178.00,1063.88 L180.00,1063.28 L182.00,1062.65 L184.00,1062.00 L186.00,1061.33 L188.00,1060.64 L190.00,1059.92 L192.00,1059.17 L194.00,1058.40 L196.00,1057.60 L198.00,1056.77 L200.00,1055.91 L202.00,1055.02 L204.00,1054.11 L206.00,1053.16 L208.00,1052.17 L210.00,1051.16 L212.00,1050.11 L214.00,1049.02 L216.00,1047.90 L218.00,1046.74 L220.00,1045.54 L222.00,1044.31 L224.00,1043.05 L226.00,1041.75 L228.00,1040.41 L230.00,1039.05 L232.00,1037.65 L234.00,1036.22 L236.00,1034.75 L238.00,1033.26 L240.00,1031.73 L242.00,1030.18 L244.00,1028.60 L246.00,1026.98 L248.00,1025.34 L250.00,1023.67 L252.00,1021.98 L254.00,1020.26 L256.00,1018.51 L258.00,1016.73 L260.00,1014.94 L262.00,1013.11 L264.00,1011.27 L266.00,1009.40 L268.00,1007.50 L270.00,1005.59 L272.00,1003.65 L274.00,1001.70 L276.00,999.72 L278.00,997.72 L280.00,995.70 L282.00,993.67 L284.00,991.61 L286.00,989.54 L288.00,987.45 L290.00,985.35 L292.00,983.23 L294.00,981.09 L296.00,978.94 L298.00,976.77 L300.00,974.59 L302.00,972.40 L304.00,970.19 L306.00,967.98 L308.00,965.75 L310.00,963.51 L312.00,961.26 L314.00,959.00 L316.00,956.73 L318.00,954.46 L320.00,952.18 L322.00,949.91 L324.00,947.63 L326.00,945.35 L328.00,943.07 L330.00,940.80 L332.00,938.54 L334.00,936.28 L336.00,934.03 L338.00,931.79 L340.00,929.57 L342.00,927.36 L344.00,925.16 L346.00,922.98 L348.00,920.82 L350.00,918.69 L352.00,916.57 L354.00,914.48 L356.00,912.41 L358.00,910.37 L360.00,908.36 L362.00,906.38 L364.00,904.43 L366.00,902.51 L368.00,900.63 L370.00,898.79 L372.00,896.99 L374.00,895.22 L376.00,893.50 L378.00,891.82 L380.00,890.19 L382.00,888.60 L384.00,887.06 L386.00,885.57 L388.00,884.14 L390.00,882.75 L392.00,881.42 L394.00,880.15 L396.00,878.94 L398.00,877.78 L400.00,876.69 L402.00,875.66 L404.00,874.69 L406.00,873.78 L408.00,872.94 L410.00,872.15 L412.00,871.41 L414.00,870.74 L416.00,870.11 L418.00,869.54 L420.00,869.02 L422.00,868.55 L424.00,868.13 L426.00,867.76 L428.00,867.44 L430.00,867.16 L432.00,866.92 L434.00,866.72 L436.00,866.57 L438.00,866.45 L440.00,866.38 L442.00,866.34 L444.00,866.34 L446.00,866.37 L448.00,866.43 L450.00,866.53 L452.00,866.66 L454.00,866.81 L456.00,867.00 L458.00,867.21 L460.00,867.44 L462.00,867.70 L464.00,867.98 L466.00,868.29 L468.00,868.61 L470.00,868.95 L472.00,869.31 L474.00,869.69 L476.00,870.08 L478.00,870.48 L480.00,870.90 L482.00,871.33 L484.00,871.76 L486.00,872.21 L488.00,872.66 L490.00,873.11 L492.00,873.58 L494.00,874.04 L496.00,874.50 L498.00,874.97 L500.00,875.44 L502.00,875.91 L504.00,876.37 L506.00,876.84 L508.00,877.30 L510.00,877.77 L512.00,878.23 L514.00,878.69 L516.00,879.15 L518.00,879.61 L520.00,880.06 L522.00,880.51 L524.00,880.96 L526.00,881.40 L528.00,881.84 L530.00,882.27 L532.00,882.70 L534.00,883.12 L536.00,883.54 L538.00,883.96 L540.00,884.36 L542.00,884.76 L544.00,885.16 L546.00,885.54 L548.00,885.92 L550.00,886.29 L552.00,886.65 L554.00,887.01 L556.00,887.35 L558.00,887.69 L560.00,888.02 L562.00,888.33 L564.00,888.64 L566.00,888.94 L568.00,889.22 L570.00,889.50 L572.00,889.76 L574.00,890.01 L576.00,890.25 L578.00,890.48 L580.00,890.70 L582.00,890.90 L584.00,891.09 L586.00,891.26 L588.00,891.42 L590.00,891.57 L592.00,891.70 L594.00,891.81 L596.00,891.91 L598.00,892.00 L600.00,892.07 L602.00,892.12 L604.00,892.16 L606.00,892.17 L608.00,892.18 L610.00,892.16 L612.00,892.12 L614.00,892.07 L616.00,892.00 L618.00,891.91 L620.00,891.80 L622.00,891.67 L624.00,891.52 L626.00,891.35 L628.00,891.16 L630.00,890.95 L632.00,890.72 L634.00,890.47 L636.00,890.20 L638.00,889.91 L640.00,889.60 L642.00,889.27 L644.00,888.92 L646.00,888.55 L648.00,888.17 L650.00,887.76 L652.00,887.34 L654.00,886.89 L656.00,886.43 L658.00,885.95 L660.00,885.46 L662.00,884.94 L664.00,884.41 L666.00,883.86 L668.00,883.29 L670.00,882.71 L672.00,882.10 L674.00,881.48 L676.00,880.85 L678.00,880.20 L680.00,879.53 L682.00,878.84 L684.00,878.14 L686.00,877.42 L688.00,876.69 L690.00,875.94 L692.00,875.18 L694.00,874.40 L696.00,873.60 L698.00,872.79 L700.00,871.96 L702.00,871.12 L704.00,870.27 L706.00,869.40 L708.00,868.52 L710.00,867.62 L712.00,866.71 L714.00,865.78 L716.00,864.84 L718.00,863.89 L720.00,862.92 L722.00,861.94 L724.00,860.95 L726.00,859.95 L728.00,858.93 L730.00,857.90 L732.00,856.85 L734.00,855.80 L736.00,854.73 L738.00,853.65 L740.00,852.56 L742.00,851.46 L744.00,850.34 L746.00,849.22 L748.00,848.09 L750.00,846.95 L752.00,845.80 L754.00,844.65 L756.00,843.48 L758.00,842.31 L760.00,841.14 L762.00,839.95 L764.00,838.76 L766.00,837.57 L768.00,836.37 L770.00,835.17 L772.00,833.97 L774.00,832.76 L776.00,831.55 L778.00,830.34 L780.00,829.12 L782.00,827.91 L784.00,826.69 L786.00,825.48 L788.00,824.26 L790.00,823.05 L792.00,821.84 L794.00,820.63 L796.00,819.42 L798.00,818.22 L800.00,817.02 L802.00,815.82 L804.00,814.63 L806.00,813.44 L808.00,812.26 L810.00,811.08 L812.00,809.91 L814.00,808.75 L816.00,807.60 L818.00,806.45 L820.00,805.31 L822.00,804.18 L824.00,803.06 L826.00,801.95 L828.00,800.85 L830.00,799.77 L832.00,798.69 L834.00,797.62 L836.00,796.57 L838.00,795.53 L840.00,794.50 L842.00,793.49 L844.00,792.49 L846.00,791.51 L848.00,790.54 L850.00,789.59 L852.00,788.66 L854.00,787.74 L856.00,786.84 L858.00,785.95 L860.00,785.09 L862.00,784.24 L864.00,783.41 L866.00,782.61 L868.00,781.82 L870.00,781.06 L872.00,780.31 L874.00,779.59 L876.00,778.89 L878.00,778.21 L880.00,777.56 L882.00,776.93 L884.00,776.32 L886.00,775.74 L888.00,775.18 L890.00,774.65 L892.00,774.15 L894.00,773.67 L896.00,773.22 L898.00,772.80 L900.00,772.41 L901.00,772.22" fill="none" stroke="#fff" stroke-width="2.5"/>
<path d="M128.00,1075.41 L130.00,1074.95 L132.00,1074.48 L134.00,1074.02 L136.00,1073.56 L138.00,1073.11 L140.00,1072.65 L142.00,1072.20 L144.00,1071.74 L146.00,1071.28 L148.00,1070.82 L150.00,1070.36 L152.00,1069.89 L154.00,1069.41 L156.00,1068.94 L158.00,1068.45 L160.00,1067.96 L162.00,1067.45 L164.00,1066.94 L166.00,1066.42 L168.00,1065.89 L170.00,1065.34 L172.00,1064.79 L174.00,1064.22 L176.00,1063.63 L178.00,1063.03 L180.00,1062.41 L182.00,1061.78 L184.00,1061.13 L186.00,1060.46 L188.00,1059.77 L190.00,1059.06 L192.00,1058.33 L194.00,1057.57 L196.00,1056.80 L198.00,1056.00 L200.00,1055.17 L202.00,1054.32 L204.00,1053.45 L206.00,1052.54 L208.00,1051.61 L210.00,1050.65 L212.00,1049.66 L214.00,1048.64 L216.00,1047.59 L218.00,1046.50 L220.00,1045.38 L222.00,1044.23 L224.00,1043.05 L226.00,1041.83 L228.00,1040.57 L230.00,1039.27 L232.00,1037.94 L234.00,1036.57 L236.00,1035.17 L238.00,1033.73 L240.00,1032.26 L242.00,1030.75 L244.00,1029.21 L246.00,1027.64 L248.00,1026.04 L250.00,1024.41 L252.00,1022.74 L254.00,1021.05 L256.00,1019.33 L258.00,1017.57 L260.00,1015.80 L262.00,1013.99 L264.00,1012.15 L266.00,1010.30 L268.00,1008.41 L270.00,1006.50 L272.00,1004.57 L274.00,1002.61 L276.00,1000.63 L278.00,998.62 L280.00,996.60 L282.00,994.55 L284.00,992.48 L286.00,990.40 L288.00,988.29 L290.00,986.16 L292.00,984.02 L294.00,981.86 L296.00,979.68 L298.00,977.49 L300.00,975.28 L302.00,973.05 L304.00,970.81 L306.00,968.56 L308.00,966.30 L310.00,964.02 L312.00,961.73 L314.00,959.42 L316.00,957.11 L318.00,954.79 L320.00,952.46 L322.00,950.11 L324.00,947.77 L326.00,945.42 L328.00,943.07 L330.00,940.73 L332.00,938.40 L334.00,936.07 L336.00,933.77 L338.00,931.48 L340.00,929.21 L342.00,926.97 L344.00,924.76 L346.00,922.58 L348.00,920.43 L350.00,918.32 L352.00,916.26 L354.00,914.24 L356.00,912.27 L358.00,910.36 L360.00,908.50 L362.00,906.70 L364.00,904.96 L366.00,903.29 L368.00,901.69 L370.00,900.16 L372.00,898.71 L374.00,897.34 L376.00,896.06 L378.00,894.85 L380.00,893.74 L382.00,892.70 L384.00,891.75 L386.00,890.88 L388.00,890.10 L390.00,889.39 L392.00,888.77 L394.00,888.23 L396.00,887.77 L398.00,887.38 L400.00,887.08 L402.00,886.85 L404.00,886.71 L406.00,886.63 L408.00,886.64 L410.00,886.72 L412.00,886.88 L414.00,887.11 L416.00,887.42 L418.00,887.80 L420.00,888.26 L422.00,888.78 L424.00,889.37 L426.00,890.03 L428.00,890.76 L430.00,891.56 L432.00,892.42 L434.00,893.34 L436.00,894.33 L438.00,895.38 L440.00,896.49 L442.00,897.66 L444.00,898.89 L446.00,900.17 L448.00,901.51 L450.00,902.91 L452.00,904.36 L454.00,905.86 L456.00,907.42 L458.00,909.02 L460.00,910.68 L462.00,912.38 L464.00,914.13 L466.00,915.93 L468.00,917.77 L470.00,919.66 L472.00,921.58 L474.00,923.55 L476.00,925.55 L478.00,927.58 L480.00,929.65 L482.00,931.73 L484.00,933.85 L486.00,935.98 L488.00,938.13 L490.00,940.30 L492.00,942.48 L494.00,944.67 L496.00,946.86 L498.00,949.06 L500.00,951.26 L502.00,953.46 L504.00,955.65 L506.00,957.83 L508.00,960.00 L510.00,962.16 L512.00,964.30 L514.00,966.43 L516.00,968.53 L518.00,970.60 L520.00,972.64 L522.00,974.66 L524.00,976.64 L526.00,978.59 L528.00,980.50 L530.00,982.38 L532.00,984.22 L534.00,986.03 L536.00,987.81 L538.00,989.55 L540.00,991.25 L542.00,992.92 L544.00,994.56 L546.00,996.16 L548.00,997.72 L550.00,999.25 L552.00,1000.74 L554.00,1002.20 L556.00,1003.62 L558.00,1005.00 L560.00,1006.35 L562.00,1007.66 L564.00,1008.93 L566.00,1010.16 L568.00,1011.36 L570.00,1012.52 L572.00,1013.64 L574.00,1014.73 L576.00,1015.78 L578.00,1016.78 L580.00,1017.75 L582.00,1018.69 L584.00,1019.58 L586.00,1020.43 L588.00,1021.25 L590.00,1022.02 L592.00,1022.76 L594.00,1023.46 L596.00,1024.12 L598.00,1024.73 L600.00,1025.31 L602.00,1025.85 L604.00,1026.35 L606.00,1026.80 L608.00,1027.22 L610.00,1027.59 L612.00,1027.93 L614.00,1028.22 L616.00,1028.47 L618.00,1028.68 L620.00,1028.85 L622.00,1028.98 L624.00,1029.06 L626.00,1029.10 L628.00,1029.10 L630.00,1029.06 L632.00,1028.97 L634.00,1028.84 L636.00,1028.67 L638.00,1028.46 L640.00,1028.20 L642.00,1027.90 L644.00,1027.55 L646.00,1027.16 L648.00,1026.73 L650.00,1026.25 L652.00,1025.73 L654.00,1025.17 L656.00,1024.56 L658.00,1023.90 L660.00,1023.20 L662.00,1022.45 L664.00,1021.66 L666.00,1020.82 L668.00,1019.94 L670.00,1019.01 L672.00,1018.04 L674.00,1017.02 L676.00,1015.95 L678.00,1014.84 L680.00,1013.68 L682.00,1012.47 L684.00,1011.21 L686.00,1009.91 L688.00,1008.56 L690.00,1007.17 L692.00,1005.72 L694.00,1004.23 L696.00,1002.69 L698.00,1001.10 L700.00,999.47 L702.00,997.78 L704.00,996.05 L706.00,994.26 L708.00,992.43 L710.00,990.55 L712.00,988.62 L714.00,986.64 L716.00,984.61 L718.00,982.53 L720.00,980.40 L722.00,978.22 L724.00,975.99 L726.00,973.71 L728.00,971.38 L730.00,969.00 L732.00,966.58 L734.00,964.12 L736.00,961.62 L738.00,959.08 L740.00,956.52 L742.00,953.92 L744.00,951.29 L746.00,948.64 L748.00,945.97 L750.00,943.27 L752.00,940.56 L754.00,937.84 L756.00,935.10 L758.00,932.36 L760.00,929.61 L762.00,926.85 L764.00,924.10 L766.00,921.34 L768.00,918.59 L770.00,915.85 L772.00,913.12 L774.00,910.40 L776.00,907.69 L778.00,905.01 L780.00,902.34 L782.00,899.69 L784.00,897.06 L786.00,894.45 L788.00,891.86 L790.00,889.29 L792.00,886.74 L794.00,884.21 L796.00,881.70 L798.00,879.20 L800.00,876.73 L802.00,874.27 L804.00,871.84 L806.00,869.42 L808.00,867.03 L810.00,864.65 L812.00,862.29 L814.00,859.95 L816.00,857.63 L818.00,855.33 L820.00,853.05 L822.00,850.78 L824.00,848.54 L826.00,846.32 L828.00,844.11 L830.00,841.93 L832.00,839.77 L834.00,837.63 L836.00,835.52 L838.00,833.43 L840.00,831.36 L842.00,829.32 L844.00,827.31 L846.00,825.32 L848.00,823.36 L850.00,821.42 L852.00,819.52 L854.00,817.64 L856.00,815.80 L858.00,813.98 L860.00,812.20 L862.00,810.44 L864.00,808.72 L866.00,807.04 L868.00,805.39 L870.00,803.77 L872.00,802.18 L874.00,800.64 L876.00,799.13 L878.00,797.65 L880.00,796.22 L882.00,794.82 L884.00,793.46 L886.00,792.14 L888.00,790.86 L890.00,789.63 L892.00,788.43 L894.00,787.28 L896.00,786.17 L898.00,785.10 L900.00,784.08 L901.00,783.59" fill="none" stroke="#fff" stroke-width="2.5"/>
<path d="M128.00,1085.34 L130.00,1085.36 L132.00,1085.39 L134.00,1085.40 L136.00,1085.42 L138.00,1085.44 L140.00,1085.46 L142.00,1085.47 L144.00,1085.49 L146.00,1085.50 L148.00,1085.52 L150.00,1085.53 L152.00,1085.54 L154.00,1085.55 L156.00,1085.56 L158.00,1085.57 L160.00,1085.58 L162.00,1085.58 L164.00,1085.59 L166.00,1085.60 L168.00,1085.60 L170.00,1085.61 L172.00,1085.61 L174.00,1085.61 L176.00,1085.61 L178.00,1085.62 L180.00,1085.62 L182.00,1085.62 L184.00,1085.62 L186.00,1085.62 L188.00,1085.62 L190.00,1085.62 L192.00,1085.61 L194.00,1085.61 L196.00,1085.61 L198.00,1085.61 L200.00,1085.60 L202.00,1085.60 L204.00,1085.59 L206.00,1085.59 L208.00,1085.58 L210.00,1085.58 L212.00,1085.57 L214.00,1085.57 L216.00,1085.56 L218.00,1085.55 L220.00,1085.55 L222.00,1085.54 L224.00,1085.53 L226.00,1085.53 L228.00,1085.52 L230.00,1085.51 L232.00,1085.51 L234.00,1085.50 L236.00,1085.49 L238.00,1085.48 L240.00,1085.47 L242.00,1085.47 L244.00,1085.46 L246.00,1085.45 L248.00,1085.44 L250.00,1085.44 L252.00,1085.43 L254.00,1085.42 L256.00,1085.42 L258.00,1085.41 L260.00,1085.40 L262.00,1085.40 L264.00,1085.39 L266.00,1085.38 L268.00,1085.38 L270.00,1085.37 L272.00,1085.37 L274.00,1085.36 L276.00,1085.36 L278.00,1085.35 L280.00,1085.35 L282.00,1085.35 L284.00,1085.34 L286.00,1085.34 L288.00,1085.34 L290.00,1085.34 L292.00,1085.33 L294.00,1085.33 L296.00,1085.33 L298.00,1085.33 L300.00,1085.33 L302.00,1085.33 L304.00,1085.34 L306.00,1085.34 L308.00,1085.34 L310.00,1085.35 L312.00,1085.35 L314.00,1085.36 L316.00,1085.36 L318.00,1085.37 L320.00,1085.38 L322.00,1085.38 L324.00,1085.39 L326.00,1085.40 L328.00,1085.41 L330.00,1085.42 L332.00,1085.43 L334.00,1085.45 L336.00,1085.46 L338.00,1085.47 L340.00,1085.48 L342.00,1085.50 L344.00,1085.51 L346.00,1085.52 L348.00,1085.54 L350.00,1085.55 L352.00,1085.56 L354.00,1085.58 L356.00,1085.59 L358.00,1085.60 L360.00,1085.61 L362.00,1085.63 L364.00,1085.64 L366.00,1085.65 L368.00,1085.66 L370.00,1085.67 L372.00,1085.68 L374.00,1085.69 L376.00,1085.70 L378.00,1085.71 L380.00,1085.72 L382.00,1085.72 L384.00,1085.73 L386.00,1085.73 L388.00,1085.74 L390.00,1085.74 L392.00,1085.74 L394.00,1085.74 L396.00,1085.74 L398.00,1085.74 L400.00,1085.74 L402.00,1085.73 L404.00,1085.73 L406.00,1085.72 L408.00,1085.71 L410.00,1085.70 L412.00,1085.69 L414.00,1085.68 L416.00,1085.66 L418.00,1085.65 L420.00,1085.63 L422.00,1085.61 L424.00,1085.58 L426.00,1085.56 L428.00,1085.53 L430.00,1085.50 L432.00,1085.47 L434.00,1085.44 L436.00,1085.40 L438.00,1085.37 L440.00,1085.33 L442.00,1085.29 L444.00,1085.24 L446.00,1085.19 L448.00,1085.14 L450.00,1085.09 L452.00,1085.04 L454.00,1084.98 L456.00,1084.92 L458.00,1084.86 L460.00,1084.79 L462.00,1084.72 L464.00,1084.65 L466.00,1084.57 L468.00,1084.49 L470.00,1084.41 L472.00,1084.33 L474.00,1084.24 L476.00,1084.15 L478.00,1084.06 L480.00,1083.96 L482.00,1083.86 L484.00,1083.75 L486.00,1083.64 L488.00,1083.53 L490.00,1083.42 L492.00,1083.30 L494.00,1083.18 L496.00,1083.05 L498.00,1082.92 L500.00,1082.78 L502.00,1082.65 L504.00,1082.50 L506.00,1082.36 L508.00,1082.21 L510.00,1082.05 L512.00,1081.89 L514.00,1081.73 L516.00,1081.56 L518.00,1081.39 L520.00,1081.21 L522.00,1081.03 L524.00,1080.84 L526.00,1080.65 L528.00,1080.46 L530.00,1080.26 L532.00,1080.06 L534.00,1079.85 L536.00,1079.63 L538.00,1079.41 L540.00,1079.19 L542.00,1078.96 L544.00,1078.73 L546.00,1078.49 L548.00,1078.24 L550.00,1077.98 L552.00,1077.72 L554.00,1077.46 L556.00,1077.18 L558.00,1076.89 L560.00,1076.60 L562.00,1076.30 L564.00,1075.98 L566.00,1075.66 L568.00,1075.32 L570.00,1074.98 L572.00,1074.62 L574.00,1074.25 L576.00,1073.87 L578.00,1073.47 L580.00,1073.06 L582.00,1072.64 L584.00,1072.20 L586.00,1071.75 L588.00,1071.28 L590.00,1070.80 L592.00,1070.30 L594.00,1069.78 L596.00,1069.25 L598.00,1068.70 L600.00,1068.13 L602.00,1067.54 L604.00,1066.94 L606.00,1066.31 L608.00,1065.67 L610.00,1065.01 L612.00,1064.32 L614.00,1063.61 L616.00,1062.89 L618.00,1062.14 L620.00,1061.36 L622.00,1060.57 L624.00,1059.75 L626.00,1058.91 L628.00,1058.04 L630.00,1057.15 L632.00,1056.24 L634.00,1055.30 L636.00,1054.33 L638.00,1053.33 L640.00,1052.31 L642.00,1051.27 L644.00,1050.19 L646.00,1049.09 L648.00,1047.96 L650.00,1046.79 L652.00,1045.60 L654.00,1044.38 L656.00,1043.13 L658.00,1041.85 L660.00,1040.54 L662.00,1039.20 L664.00,1037.82 L666.00,1036.42 L668.00,1034.98 L670.00,1033.51 L672.00,1032.01 L674.00,1030.48 L676.00,1028.91 L678.00,1027.31 L680.00,1025.68 L682.00,1024.02 L684.00,1022.32 L686.00,1020.58 L688.00,1018.81 L690.00,1017.01 L692.00,1015.17 L694.00,1013.30 L696.00,1011.39 L698.00,1009.44 L700.00,1007.46 L702.00,1005.44 L704.00,1003.39 L706.00,1001.30 L708.00,999.17 L710.00,997.00 L712.00,994.80 L714.00,992.56 L716.00,990.28 L718.00,987.96 L720.00,985.60 L722.00,983.21 L724.00,980.77 L726.00,978.30 L728.00,975.78 L730.00,973.22 L732.00,970.63 L734.00,967.99 L736.00,965.31 L738.00,962.60 L740.00,959.85 L742.00,957.06 L744.00,954.26 L746.00,951.43 L748.00,948.58 L750.00,945.72 L752.00,942.85 L754.00,939.98 L756.00,937.10 L758.00,934.23 L760.00,931.37 L762.00,928.52 L764.00,925.69 L766.00,922.88 L768.00,920.08 L770.00,917.31 L772.00,914.56 L774.00,911.82 L776.00,909.11 L778.00,906.42 L780.00,903.75 L782.00,901.10 L784.00,898.47 L786.00,895.86 L788.00,893.27 L790.00,890.70 L792.00,888.16 L794.00,885.64 L796.00,883.13 L798.00,880.65 L800.00,878.19 L802.00,875.75 L804.00,873.33 L806.00,870.93 L808.00,868.55 L810.00,866.20 L812.00,863.86 L814.00,861.54 L816.00,859.24 L818.00,856.96 L820.00,854.70 L822.00,852.45 L824.00,850.23 L826.00,848.03 L828.00,845.84 L830.00,843.67 L832.00,841.52 L834.00,839.39 L836.00,837.27 L838.00,835.18 L840.00,833.10 L842.00,831.04 L844.00,829.01 L846.00,827.00 L848.00,825.01 L850.00,823.05 L852.00,821.11 L854.00,819.20 L856.00,817.33 L858.00,815.48 L860.00,813.66 L862.00,811.88 L864.00,810.13 L866.00,808.41 L868.00,806.73 L870.00,805.09 L872.00,803.48 L874.00,801.92 L876.00,800.40 L878.00,798.92 L880.00,797.48 L882.00,796.08 L884.00,794.74 L886.00,793.44 L888.00,792.18 L890.00,790.98 L892.00,789.83 L894.00,788.73 L896.00,787.68 L898.00,786.68 L900.00,785.74 L901.00,785.29" fill="none" stroke="#fff" stroke-width="2.5"/>
<path d="M128.00,1086.81 L130.00,1086.81 L132.00,1086.81 L134.00,1086.81 L136.00,1086.81 L138.00,1086.81 L140.00,1086.81 L142.00,1086.81 L144.00,1086.81 L146.00,1086.81 L148.00,1086.81 L150.00,1086.81 L152.00,1086.81 L154.00,1086.81 L156.00,1086.81 L158.00,1086.81 L160.00,1086.81 L162.00,1086.81 L164.00,1086.81 L166.00,1086.81 L168.00,1086.81 L170.00,1086.81 L172.00,1086.81 L174.00,1086.81 L176.00,1086.81 L178.00,1086.81 L180.00,1086.81 L182.00,1086.81 L184.00,1086.81 L186.00,1086.81 L188.00,1086.81 L190.00,1086.81 L192.00,1086.81 L194.00,1086.81 L196.00,1086.81 L198.00,1086.81 L200.00,1086.81 L202.00,1086.81 L204.00,1086.81 L206.00,1086.81 L208.00,1086.81 L210.00,1086.81 L212.00,1086.81 L214.00,1086.81 L216.00,1086.81 L218.00,1086.81 L220.00,1086.81 L222.00,1086.81 L224.00,1086.81 L226.00,1086.81 L228.00,1086.81 L230.00,1086.81 L232.00,1086.81 L234.00,1086.81 L236.00,1086.81 L238.00,1086.81 L240.00,1086.81 L242.00,1086.81 L244.00,1086.81 L246.00,1086.80 L248.00,1086.80 L250.00,1086.80 L252.00,1086.80 L254.00,1086.80 L256.00,1086.80 L258.00,1086.80 L260.00,1086.80 L262.00,1086.80 L264.00,1086.80 L266.00,1086.80 L268.00,1086.80 L270.00,1086.80 L272.00,1086.80 L274.00,1086.80 L276.00,1086.80 L278.00,1086.80 L280.00,1086.80 L282.00,1086.80 L284.00,1086.80 L286.00,1086.80 L288.00,1086.80 L290.00,1086.80 L292.00,1086.80 L294.00,1086.80 L296.00,1086.80 L298.00,1086.80 L300.00,1086.80 L302.00,1086.80 L304.00,1086.80 L306.00,1086.80 L308.00,1086.80 L310.00,1086.80 L312.00,1086.80 L314.00,1086.80 L316.00,1086.80 L318.00,1086.80 L320.00,1086.80 L322.00,1086.80 L324.00,1086.80 L326.00,1086.79 L328.00,1086.79 L330.00,1086.79 L332.00,1086.79 L334.00,1086.79 L336.00,1086.79 L338.00,1086.79 L340.00,1086.79 L342.00,1086.79 L344.00,1086.79 L346.00,1086.79 L348.00,1086.79 L350.00,1086.79 L352.00,1086.79 L354.00,1086.79 L356.00,1086.79 L358.00,1086.79 L360.00,1086.78 L362.00,1086.78 L364.00,1086.78 L366.00,1086.78 L368.00,1086.78 L370.00,1086.78 L372.00,1086.78 L374.00,1086.78 L376.00,1086.78 L378.00,1086.78 L380.00,1086.78 L382.00,1086.77 L384.00,1086.77 L386.00,1086.77 L388.00,1086.77 L390.00,1086.77 L392.00,1086.77 L394.00,1086.77 L396.00,1086.77 L398.00,1086.76 L400.00,1086.76 L402.00,1086.76 L404.00,1086.76 L406.00,1086.76 L408.00,1086.76 L410.00,1086.75 L412.00,1086.75 L414.00,1086.75 L416.00,1086.75 L418.00,1086.75 L420.00,1086.75 L422.00,1086.74 L424.00,1086.74 L426.00,1086.74 L428.00,1086.74 L430.00,1086.73 L432.00,1086.73 L434.00,1086.73 L436.00,1086.73 L438.00,1086.72 L440.00,1086.72 L442.00,1086.72 L444.00,1086.72 L446.00,1086.71 L448.00,1086.71 L450.00,1086.71 L452.00,1086.70 L454.00,1086.70 L456.00,1086.70 L458.00,1086.69 L460.00,1086.69 L462.00,1086.69 L464.00,1086.68 L466.00,1086.68 L468.00,1086.67 L470.00,1086.67 L472.00,1086.66 L474.00,1086.66 L476.00,1086.65 L478.00,1086.65 L480.00,1086.64 L482.00,1086.64 L484.00,1086.63 L486.00,1086.63 L488.00,1086.62 L490.00,1086.62 L492.00,1086.61 L494.00,1086.60 L496.00,1086.60 L498.00,1086.59 L500.00,1086.58 L502.00,1086.58 L504.00,1086.57 L506.00,1086.56 L508.00,1086.55 L510.00,1086.54 L512.00,1086.54 L514.00,1086.53 L516.00,1086.52 L518.00,1086.51 L520.00,1086.50 L522.00,1086.49 L524.00,1086.48 L526.00,1086.47 L528.00,1086.46 L530.00,1086.45 L532.00,1086.43 L534.00,1086.42 L536.00,1086.41 L538.00,1086.40 L540.00,1086.38 L542.00,1086.37 L544.00,1086.36 L546.00,1086.34 L548.00,1086.33 L550.00,1086.31 L552.00,1086.29 L554.00,1086.28 L556.00,1086.26 L558.00,1086.24 L560.00,1086.23 L562.00,1086.21 L564.00,1086.19 L566.00,1086.17 L568.00,1086.15 L570.00,1086.13 L572.00,1086.10 L574.00,1086.08 L576.00,1086.06 L578.00,1086.03 L580.00,1086.01 L582.00,1085.98 L584.00,1085.96 L586.00,1085.93 L588.00,1085.90 L590.00,1085.87 L592.00,1085.84 L594.00,1085.81 L596.00,1085.78 L598.00,1085.74 L600.00,1085.71 L602.00,1085.67 L604.00,1085.64 L606.00,1085.60 L608.00,1085.56 L610.00,1085.52 L612.00,1085.48 L614.00,1085.44 L616.00,1085.39 L618.00,1085.35 L620.00,1085.30 L622.00,1085.25 L624.00,1085.20 L626.00,1085.15 L628.00,1085.10 L630.00,1085.04 L632.00,1084.99 L634.00,1084.93 L636.00,1084.87 L638.00,1084.80 L640.00,1084.74 L642.00,1084.67 L644.00,1084.61 L646.00,1084.53 L648.00,1084.46 L650.00,1084.39 L652.00,1084.31 L654.00,1084.23 L656.00,1084.14 L658.00,1084.06 L660.00,1083.97 L662.00,1083.88 L664.00,1083.79 L666.00,1083.69 L668.00,1083.59 L670.00,1083.48 L672.00,1083.38 L674.00,1083.27 L676.00,1083.15 L678.00,1083.04 L680.00,1082.91 L682.00,1082.79 L684.00,1082.66 L686.00,1082.53 L688.00,1082.39 L690.00,1082.25 L692.00,1082.10 L694.00,1081.95 L696.00,1081.79 L698.00,1081.63 L700.00,1081.46 L702.00,1081.29 L704.00,1081.12 L706.00,1080.93 L708.00,1080.74 L710.00,1080.55 L712.00,1080.35 L714.00,1080.14 L716.00,1079.93 L718.00,1079.70 L720.00,1079.48 L722.00,1079.24 L724.00,1079.00 L726.00,1078.75 L728.00,1078.49 L730.00,1078.22 L732.00,1077.94 L734.00,1077.66 L736.00,1077.36 L738.00,1077.06 L740.00,1076.75 L742.00,1076.42 L744.00,1076.09 L746.00,1075.75 L748.00,1075.39 L750.00,1075.02 L752.00,1074.64 L754.00,1074.25 L756.00,1073.85 L758.00,1073.43 L760.00,1073.00 L762.00,1072.56 L764.00,1072.10 L766.00,1071.63 L768.00,1071.14 L770.00,1070.64 L772.00,1070.12 L774.00,1069.58 L776.00,1069.03 L778.00,1068.46 L780.00,1067.87 L782.00,1067.26 L784.00,1066.63 L786.00,1065.98 L788.00,1065.31 L790.00,1064.62 L792.00,1063.91 L794.00,1063.17 L796.00,1062.41 L798.00,1061.63 L800.00,1060.82 L802.00,1059.98 L804.00,1059.12 L806.00,1058.23 L808.00,1057.31 L810.00,1056.36 L812.00,1055.39 L814.00,1054.38 L816.00,1053.33 L818.00,1052.26 L820.00,1051.15 L822.00,1050.00 L824.00,1048.82 L826.00,1047.60 L828.00,1046.34 L830.00,1045.04 L832.00,1043.69 L834.00,1042.31 L836.00,1040.88 L838.00,1039.40 L840.00,1037.88 L842.00,1036.30 L844.00,1034.68 L846.00,1033.01 L848.00,1031.28 L850.00,1029.49 L852.00,1027.65 L854.00,1025.75 L856.00,1023.78 L858.00,1021.76 L860.00,1019.67 L862.00,1017.51 L864.00,1015.28 L866.00,1012.98 L868.00,1010.61 L870.00,1008.16 L872.00,1005.64 L874.00,1003.03 L876.00,1000.33 L878.00,997.55 L880.00,994.69 L882.00,991.72 L884.00,988.67 L886.00,985.51 L888.00,982.26 L890.00,978.90 L892.00,975.43 L894.00,971.85 L896.00,968.15 L898.00,964.34 L900.00,960.40 L901.00,958.39" fill="none" stroke="#fff" stroke-width="2.5"/>
<rect x="129" y="1085.3" width="772" height="5" fill="#fff"/>
<line x1="128" y1="760.2" x2="901" y2="760.2" stroke="#51565a" stroke-width="3.2" stroke-dasharray="8 4.52"/>
<line x1="725" y1="634" x2="725" y2="1079.7" stroke="#51565a" stroke-width="3.4" stroke-dasharray="7.9 4.616" stroke-dashoffset="0"/>
<path d="M133.7,634.0 v7.0 M133.7,1090.2 v-7.0 M142.3,634.0 v7.0 M142.3,1090.2 v-7.0 M149.8,634.0 v7.0 M149.8,1090.2 v-7.0 M156.6,634.0 v15.0 M156.6,1090.2 v-15.0 M201.1,634.0 v7.0 M201.1,1090.2 v-7.0 M227.1,634.0 v7.0 M227.1,1090.2 v-7.0 M245.6,634.0 v7.0 M245.6,1090.2 v-7.0 M259.9,634.0 v7.0 M259.9,1090.2 v-7.0 M271.6,634.0 v7.0 M271.6,1090.2 v-7.0 M281.5,634.0 v7.0 M281.5,1090.2 v-7.0 M290.1,634.0 v7.0 M290.1,1090.2 v-7.0 M297.6,634.0 v7.0 M297.6,1090.2 v-7.0 M304.4,634.0 v15.0 M304.4,1090.2 v-15.0 M348.9,634.0 v7.0 M348.9,1090.2 v-7.0 M374.9,634.0 v7.0 M374.9,1090.2 v-7.0 M393.4,634.0 v7.0 M393.4,1090.2 v-7.0 M407.7,634.0 v7.0 M407.7,1090.2 v-7.0 M419.4,634.0 v7.0 M419.4,1090.2 v-7.0 M429.3,634.0 v7.0 M429.3,1090.2 v-7.0 M437.9,634.0 v7.0 M437.9,1090.2 v-7.0 M445.4,634.0 v7.0 M445.4,1090.2 v-7.0 M452.2,634.0 v15.0 M452.2,1090.2 v-15.0 M496.7,634.0 v7.0 M496.7,1090.2 v-7.0 M522.7,634.0 v7.0 M522.7,1090.2 v-7.0 M541.2,634.0 v7.0 M541.2,1090.2 v-7.0 M555.5,634.0 v7.0 M555.5,1090.2 v-7.0 M567.2,634.0 v7.0 M567.2,1090.2 v-7.0 M577.1,634.0 v7.0 M577.1,1090.2 v-7.0 M585.7,634.0 v7.0 M585.7,1090.2 v-7.0 M593.2,634.0 v7.0 M593.2,1090.2 v-7.0 M600.0,634.0 v15.0 M600.0,1090.2 v-15.0 M644.5,634.0 v7.0 M644.5,1090.2 v-7.0 M670.5,634.0 v7.0 M670.5,1090.2 v-7.0 M689.0,634.0 v7.0 M689.0,1090.2 v-7.0 M703.3,634.0 v7.0 M703.3,1090.2 v-7.0 M715.0,634.0 v7.0 M715.0,1090.2 v-7.0 M724.9,634.0 v7.0 M724.9,1090.2 v-7.0 M733.5,634.0 v7.0 M733.5,1090.2 v-7.0 M741.0,634.0 v7.0 M741.0,1090.2 v-7.0 M747.8,634.0 v15.0 M747.8,1090.2 v-15.0 M792.3,634.0 v7.0 M792.3,1090.2 v-7.0 M818.3,634.0 v7.0 M818.3,1090.2 v-7.0 M836.8,634.0 v7.0 M836.8,1090.2 v-7.0 M851.1,634.0 v7.0 M851.1,1090.2 v-7.0 M862.8,634.0 v7.0 M862.8,1090.2 v-7.0 M872.7,634.0 v7.0 M872.7,1090.2 v-7.0 M881.3,634.0 v7.0 M881.3,1090.2 v-7.0 M888.8,634.0 v7.0 M888.8,1090.2 v-7.0 M895.6,634.0 v15.0 M895.6,1090.2 v-15.0 M130.0,887.9 h15 M900.0,887.9 h-15 M130.0,683.2 h15 M900.0,683.2 h-15" stroke="#121212" stroke-width="1.7" fill="none"/>
<rect x="128.0" y="632.2" width="774.0" height="459.8" fill="none" stroke="#121212" stroke-width="3.6"/>
<text transform="translate(111.6,1101.2) scale(1.090,1)" text-anchor="end" font-size="31.5" fill="#121212" font-family="'Liberation Sans', sans-serif">0</text>
<text transform="translate(111.6,896.5) scale(1.090,1)" text-anchor="end" font-size="31.5" fill="#121212" font-family="'Liberation Sans', sans-serif">8</text>
<text transform="translate(111.6,691.8) scale(1.130,1)" text-anchor="end" font-size="31.5" fill="#121212" font-family="'Liberation Sans', sans-serif">16</text>
<text transform="translate(154.8,1133.2) scale(1.12,1)" text-anchor="middle" font-size="31.5" fill="#121212" font-family="'Liberation Sans', sans-serif">10<tspan dy="-14.3" font-size="21.5">2</tspan></text>
<text transform="translate(302.6,1133.2) scale(1.12,1)" text-anchor="middle" font-size="31.5" fill="#121212" font-family="'Liberation Sans', sans-serif">10<tspan dy="-14.3" font-size="21.5">3</tspan></text>
<text transform="translate(450.4,1133.2) scale(1.12,1)" text-anchor="middle" font-size="31.5" fill="#121212" font-family="'Liberation Sans', sans-serif">10<tspan dy="-14.3" font-size="21.5">4</tspan></text>
<text transform="translate(598.2,1133.2) scale(1.12,1)" text-anchor="middle" font-size="31.5" fill="#121212" font-family="'Liberation Sans', sans-serif">10<tspan dy="-14.3" font-size="21.5">5</tspan></text>
<text transform="translate(746.0,1133.2) scale(1.12,1)" text-anchor="middle" font-size="31.5" fill="#121212" font-family="'Liberation Sans', sans-serif">10<tspan dy="-14.3" font-size="21.5">6</tspan></text>
<text transform="translate(893.8,1133.2) scale(1.12,1)" text-anchor="middle" font-size="31.5" fill="#121212" font-family="'Liberation Sans', sans-serif">10<tspan dy="-14.3" font-size="21.5">7</tspan></text>
<text transform="translate(252,1189.4) scale(1.136,1)" font-size="38" fill="#121212" font-family="'Liberation Sans', sans-serif">Total number of threads</text>
<text transform="translate(722,1189.4) scale(1.06,1)" font-size="38" fill="#121212" font-family="'Liberation Serif', serif" font-style="italic">MT</text>
<text transform="translate(44.3,862.3) rotate(-90) scale(1.092,1)" x="0" y="0" text-anchor="middle" font-size="38" fill="#121212" font-family="'Liberation Sans', sans-serif">Memory usage (GB)</text>
<text x="404.5" y="988.7" text-anchor="middle" font-size="33" letter-spacing="0.3" fill="#fff" font-family="'Liberation Sans', sans-serif">variable and</text><text x="404.5" y="1030.4" text-anchor="middle" font-size="33" letter-spacing="0.3" fill="#fff" font-family="'Liberation Sans', sans-serif">heterogeneous</text><text x="404.5" y="1072.1" text-anchor="middle" font-size="33" letter-spacing="0.3" fill="#fff" font-family="'Liberation Sans', sans-serif">connectors</text>
<text x="621.3" y="932.6" text-anchor="middle" font-size="33" letter-spacing="0.3" fill="#fff" font-family="'Liberation Sans', sans-serif">fixed-size</text><text x="621.3" y="974.0" text-anchor="middle" font-size="33" letter-spacing="0.3" fill="#fff" font-family="'Liberation Sans', sans-serif">connectors</text>
<text x="770.6" y="966.5" text-anchor="start" font-size="33" letter-spacing="0.3" fill="#fff" font-family="'Liberation Sans', sans-serif">sparse</text><text x="770.6" y="1007.5" text-anchor="start" font-size="33" letter-spacing="0.3" fill="#fff" font-family="'Liberation Sans', sans-serif">table</text>
<text x="30.8" y="601.8" font-size="34" font-weight="bold" fill="#121212" font-family="'Liberation Sans', sans-serif">B</text>
</svg>
</body></html>
